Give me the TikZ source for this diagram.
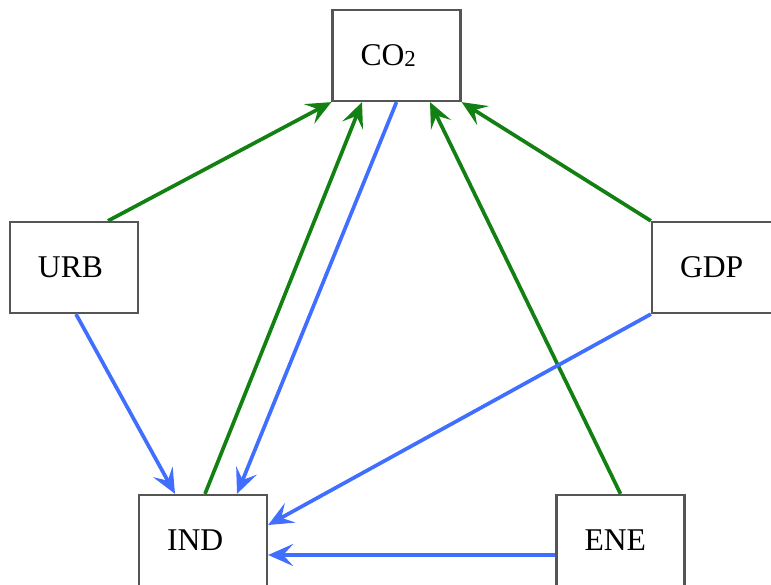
\documentclass[tikz,border=0pt]{standalone}
\usepackage{fontspec}
\setmainfont{Liberation Serif}
\usetikzlibrary{arrows.meta}
\definecolor{linkgreen}{RGB}{18,128,18}
\definecolor{linkblue}{RGB}{64,110,255}
\definecolor{boxgray}{RGB}{85,85,85}

\begin{document}
\begin{tikzpicture}[
    every node/.style={font=\fontsize{18}{21}\selectfont},
    var/.style={draw=boxgray,line width=1.3pt,fill=white,align=left,text width=1.44cm,inner xsep=0.56cm,inner ysep=0pt,minimum width=2.56cm,minimum height=1.82cm},
    greenarrow/.style={-{Stealth[length=5mm,width=4.4mm,inset=2mm]}, line width=2.1pt, linkgreen},
    bluearrow/.style={-{Stealth[length=5mm,width=4.4mm,inset=2mm]}, line width=2.1pt, linkblue}
]
\useasboundingbox (0,0) rectangle (15.42,11.7);
\node[var] (co2) at (7.93,10.59) {CO{\fontsize{13}{15}\selectfont\raisebox{-0.5pt}{2}}};
\node[var] (urb) at (1.48,6.35) {URB};
\node[var] (gdp) at (14.32,6.35) {GDP};
\node[var] (ind) at (4.06,0.89) {IND};
\node[var] (ene) at (12.41,0.89) {ENE};
\draw[greenarrow] ([xshift=0.68cm]urb.north) -- (co2.south west);
\draw[greenarrow] ([xshift=0.04cm]ind.north) -- ([xshift=-0.69cm]co2.south);
\draw[bluearrow] (co2.south) -- ([xshift=0.68cm]ind.north);
\draw[greenarrow] (ene.north) -- ([xshift=0.67cm]co2.south);
\draw[greenarrow] (gdp.north west) -- (co2.south east);
\draw[bluearrow] ([xshift=0.04cm]urb.south) -- ([xshift=-0.56cm]ind.north);
\draw[bluearrow] (gdp.south west) -- ([yshift=0.31cm]ind.east);
\draw[bluearrow] ([yshift=-0.29cm]ene.west) -- ([yshift=-0.29cm]ind.east);
\end{tikzpicture}
\end{document}
